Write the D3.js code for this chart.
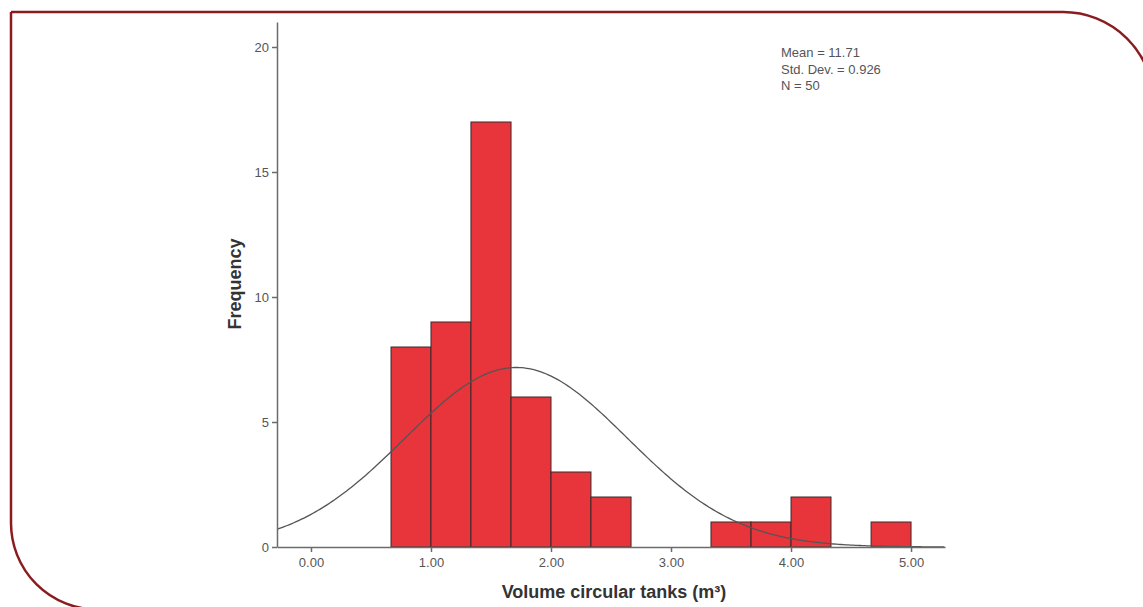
<!DOCTYPE html>
<html>
<head>
<meta charset="utf-8">
<script src="https://cdn.jsdelivr.net/npm/d3@7"></script>
<style>
  html, body { margin: 0; padding: 0; background: #fff; }
  svg { display: block; font-family: "Liberation Sans", Arial, sans-serif; }
  .axis path, .axis line { stroke: #6b6b6b; stroke-width: 1.5; }
  .axis text { fill: #555; font-size: 13px; }
</style>
</head>
<body>
<div id="chart"></div>
<script>
const FRAME_WIDTH = 1143;
const FRAME_HEIGHT = 607;

// histogram bins (m3) and counts
const BIN_EDGES = [0.667, 1.0, 1.333, 1.667, 2.0, 2.333, 2.667, 3.0, 3.333, 3.667, 4.0, 4.333, 4.667, 5.0];
const COUNTS = [8, 9, 17, 6, 3, 2, 0, 0, 1, 1, 2, 0, 1];

const X_TICKS = [0, 1, 2, 3, 4, 5];
const Y_TICKS = [0, 5, 10, 15, 20];

const STAT_LINES = ["Mean = 11.71", "Std. Dev. = 0.926", "N = 50"];
// normal curve parameters (drawn curve peaks at 1.71)
const CURVE_MEAN = 1.71;
const CURVE_SD = 0.926;
const CURVE_N = 50;
const BIN_WIDTH = 1 / 3;

const BAR_COLOR = "#e8343b";
const FRAME_COLOR = "#8a1c20";

const SVG = d3.select("#chart")
  .append("svg")
    .attr("width", FRAME_WIDTH)
    .attr("height", FRAME_HEIGHT);

// rounded page frame
SVG.append("path")
  .attr("d", "M11,12 H1063 A90.7 90.7 0 0 1 1153.7,102.7 M11,12 V523 A86.5 86.5 0 0 0 97.5,609.5")
  .attr("fill", "none")
  .attr("stroke", FRAME_COLOR)
  .attr("stroke-width", 2.5);

// scales
const X_SCALE = d3.scaleLinear()
  .domain([-0.283, 5.283])
  .range([277, 945]);

const Y_SCALE = d3.scaleLinear()
  .domain([0, 21])
  .range([547, 22]);

const bins = COUNTS.map((c, i) => ({x0: BIN_EDGES[i], x1: BIN_EDGES[i + 1], count: c}))
  .filter(d => d.count > 0);

// bars
SVG.selectAll("rect.bar")
  .data(bins)
  .enter()
  .append("rect")
    .attr("class", "bar")
    .attr("x", d => X_SCALE(d.x0))
    .attr("y", d => Y_SCALE(d.count))
    .attr("width", d => X_SCALE(d.x1) - X_SCALE(d.x0))
    .attr("height", d => Y_SCALE(0) - Y_SCALE(d.count))
    .attr("fill", BAR_COLOR)
    .attr("stroke", "#3a2a2a")
    .attr("stroke-width", 1);

// fitted normal curve
const pdf = x => CURVE_N * BIN_WIDTH * Math.exp(-0.5 * Math.pow((x - CURVE_MEAN) / CURVE_SD, 2)) / (CURVE_SD * Math.sqrt(2 * Math.PI));
const curveX = d3.range(-0.283, 5.283, 0.02);
SVG.append("path")
  .datum(curveX)
  .attr("d", d3.line().x(d => X_SCALE(d)).y(d => Y_SCALE(pdf(d))))
  .attr("fill", "none")
  .attr("stroke", "#555")
  .attr("stroke-width", 1.3);

// x axis
SVG.append("g")
  .attr("class", "axis")
  .attr("transform", "translate(0," + Y_SCALE(0) + ")")
  .call(d3.axisBottom(X_SCALE).tickValues(X_TICKS).tickFormat(d3.format(".2f")).tickSize(5).tickSizeOuter(0).tickPadding(6));

// y axis
SVG.append("g")
  .attr("class", "axis")
  .attr("transform", "translate(" + X_SCALE.range()[0] + ",0)")
  .call(d3.axisLeft(Y_SCALE).tickValues(Y_TICKS).tickFormat(d3.format("d")).tickSize(5).tickSizeOuter(0).tickPadding(3));

// axis titles
SVG.append("text")
  .attr("transform", "translate(241,284) rotate(-90)")
  .attr("text-anchor", "middle")
  .attr("font-size", "18px")
  .attr("font-weight", "bold")
  .attr("fill", "#333")
  .text("Frequency");

SVG.append("text")
  .attr("x", 614)
  .attr("y", 598)
  .attr("text-anchor", "middle")
  .attr("font-size", "18px")
  .attr("font-weight", "bold")
  .attr("fill", "#333")
  .text("Volume circular tanks (m³)");

// stats box
SVG.append("g")
  .selectAll("text")
  .data(STAT_LINES)
  .enter()
  .append("text")
    .attr("x", 781)
    .attr("y", (d, i) => 57 + i * 16.5)
    .attr("font-size", "13px")
    .attr("fill", "#555")
    .text(d => d);
</script>
</body>
</html>
